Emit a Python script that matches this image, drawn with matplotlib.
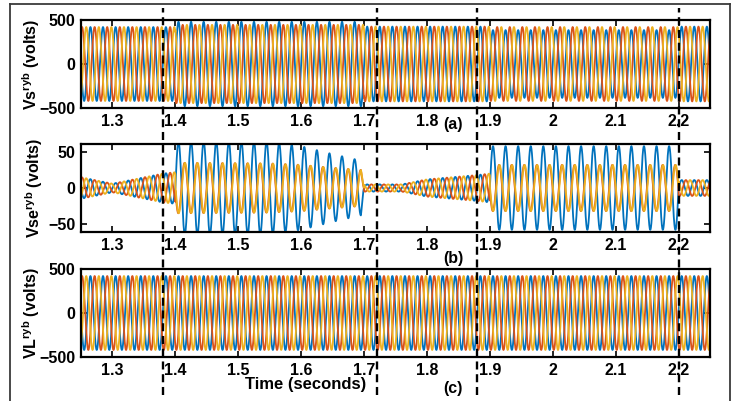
import numpy as np
import matplotlib
matplotlib.use('Agg')
import matplotlib.pyplot as plt
from matplotlib.lines import Line2D
import matplotlib.transforms as mtransforms

plt.rcParams['font.family'] = ['Liberation Sans', 'DejaVu Sans']
plt.rcParams['font.weight'] = 'bold'
plt.rcParams['mathtext.fontset'] = 'custom'
plt.rcParams['mathtext.rm'] = 'Liberation Sans:bold'
plt.rcParams['mathtext.bf'] = 'Liberation Sans:bold'
plt.rcParams['mathtext.it'] = 'Liberation Sans:bold'
plt.rcParams['mathtext.default'] = 'bf'

# ---------------- data ----------------
FREQ = 50.0                       # supply frequency (Hz)
T_START, T_END = 1.25, 2.25
event_markers = [1.38, 1.72, 1.88, 2.20]   # dashed vertical markers
event_start = [1.40, 1.90]
event_end = [1.70, 2.20]

x_ticks = [1.3, 1.4, 1.5, 1.6, 1.7, 1.8, 1.9, 2.0, 2.1, 2.2]
x_tick_labels = ['1.3', '1.4', '1.5', '1.6', '1.7', '1.8', '1.9', '2', '2.1', '2.2']

# Source voltage amplitudes (r = blue, y = orange, b = yellow)
vs_t     = [1.25, 1.40, 1.40, 1.70, 1.70, 1.90, 1.90, 2.20, 2.20, 2.25]
vs_amp_r = [420, 420, 480, 480, 425, 425, 385, 385, 425, 425]
vs_amp_y = [420, 420, 445, 445, 425, 425, 420, 420, 425, 425]
vs_amp_b = [420, 420, 445, 445, 425, 425, 420, 420, 425, 425]

# Series injected voltage amplitudes
vse_t     = [1.25, 1.30, 1.38, 1.40, 1.40, 1.55, 1.60, 1.65, 1.695, 1.70, 1.76, 1.80, 1.88, 1.90, 1.90, 2.20, 2.20, 2.25]
vse_amp_r = [15, 6, 20, 22, 64, 64, 58, 47, 38, 5, 5, 12, 18, 20, 58, 58, 11, 11]
vse_amp_y = [15, 6, 20, 22, 35, 34, 32, 28, 25, 5, 5, 12, 18, 20, 32, 32, 11, 11]
vse_amp_b = [15, 6, 20, 22, 35, 34, 32, 28, 25, 5, 5, 12, 18, 20, 32, 32, 11, 11]

# Load voltage amplitudes
vl_t     = [1.25, 2.25]
vl_amp_r = [420, 420]
vl_amp_y = [420, 420]
vl_amp_b = [420, 420]

colors = ['#0072BD', '#D95319', '#EDB120']

# ---------------- signal construction ----------------
t = np.linspace(T_START, T_END, 20000)
w = 2 * np.pi * FREQ
in_event = np.zeros_like(t, dtype=bool)
for s, e in zip(event_start, event_end):
    in_event |= (t >= s) & (t < e)

normal_phase = [0.0, -2 * np.pi / 3, 2 * np.pi / 3]
event_phase = [0.0, np.pi + 0.1, np.pi - 0.1]

def three_phase(tb, amps):
    return [np.interp(t, tb, a) * np.sin(w * t + ph) for a, ph in zip(amps, normal_phase)]

def three_phase_vse(tb, amps):
    out = []
    for a, p0, p1 in zip(amps, normal_phase, event_phase):
        ph = np.where(in_event, p1, p0)
        out.append(np.interp(t, tb, a) * np.sin(w * t + ph))
    return out

vs = three_phase(vs_t, [vs_amp_r, vs_amp_y, vs_amp_b])
vse = three_phase_vse(vse_t, [vse_amp_r, vse_amp_y, vse_amp_b])
vl = three_phase(vl_t, [vl_amp_r, vl_amp_y, vl_amp_b])

# ---------------- figure ----------------
W, H = 733, 401
fig = plt.figure(figsize=(W / 100, H / 100), dpi=100)

def ax_rect(top_px, bot_px, left_px=81, right_px=710):
    return [left_px / W, 1 - bot_px / H, (right_px - left_px) / W, (bot_px - top_px) / H]

panels = [
    (ax_rect(20, 108), vs, (-500, 500), [-500, 0, 500], r'Vs$^{ryb}$ (volts)', '(a)', 125, 31),
    (ax_rect(144, 232), vse, (-61, 61), [-50, 0, 50], r'Vse$^{ryb}$ (volts)', '(b)', 258, 34),
    (ax_rect(269, 357), vl, (-500, 500), [-500, 0, 500], r'VL$^{ryb}$ (volts)', '(c)', 389, 31),
]

axes = []
for rect, sig, ylim, yticks, ylabel, tag, tag_y, ylab_x in panels:
    ax = fig.add_axes(rect)
    for s, c in zip(sig, colors):
        ax.plot(t, s, color=c, lw=1.3)
    ax.set_xlim(T_START, T_END)
    ax.set_ylim(*ylim)
    ax.set_xticks(x_ticks)
    ax.set_xticklabels(x_tick_labels)
    ax.set_yticks(yticks)
    ax.tick_params(direction='in', top=True, right=True, length=4, width=1.2,
                   labelsize=11.5, pad=4)
    for lab in ax.get_xticklabels() + ax.get_yticklabels():
        lab.set_fontweight('bold')
    for sp in ax.spines.values():
        sp.set_linewidth(1.6)
    yc = rect[1] + rect[3] / 2
    fig.text(ylab_x / W, yc, ylabel, rotation=90, ha='center', va='center',
             fontsize=11.5, fontweight='bold')
    fig.text(453 / W, 1 - tag_y / H, tag, ha='center', va='center',
             fontsize=11.5, fontweight='bold')
    axes.append(ax)

fig.text(306 / W, 1 - 385 / H, 'Time (seconds)', ha='center', va='center',
         fontsize=12, fontweight='bold')

# dashed event markers spanning all panels
trans = mtransforms.blended_transform_factory(axes[0].transData, fig.transFigure)
for xm in event_markers:
    ln = Line2D([xm, xm], [1 - 395 / H, 1 - 8 / H], transform=trans, color='black',
                lw=1.7, linestyle=(0, (3.4, 2.0)), zorder=10)
    fig.add_artist(ln)

# outer frame
fc = '#3a3a3a'
fig.add_artist(Line2D([10 / W, 10 / W], [0, 1 - 4 / H], transform=fig.transFigure, color=fc, lw=1.3))
fig.add_artist(Line2D([10 / W, 730 / W], [1 - 4 / H, 1 - 4 / H], transform=fig.transFigure, color=fc, lw=1.3))
fig.add_artist(Line2D([730 / W, 730 / W], [0, 1 - 4 / H], transform=fig.transFigure, color=fc, lw=1.3))

fig.savefig('out.png', dpi=100)
